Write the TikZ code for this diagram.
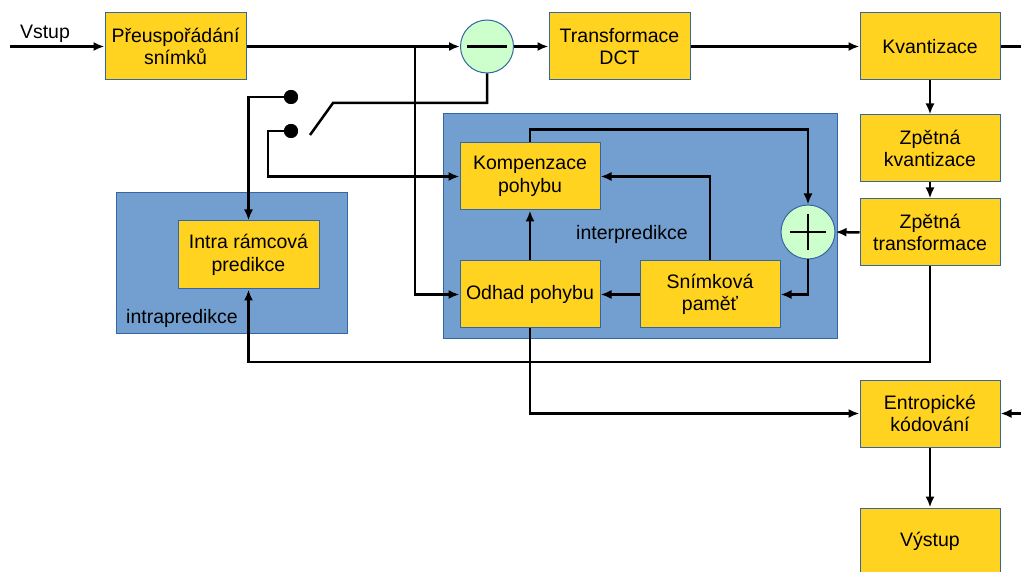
\documentclass[tikz,border=0pt]{standalone}
\usepackage{fontspec}
\setmainfont{Liberation Sans}
\usetikzlibrary{arrows.meta}
\definecolor{boxyellow}{HTML}{FFD320}
\definecolor{boxblue}{HTML}{729FCF}
\definecolor{edgeblue}{HTML}{3465A4}
\definecolor{circgreen}{HTML}{CCFFCC}
\begin{document}
\begin{tikzpicture}[x=1pt,y=-1pt,
  every node/.style={font=\fontsize{19.5}{22.5}\selectfont, text=black},
  ybox/.style={draw=edgeblue, line width=1pt, fill=boxyellow, minimum width=140pt, minimum height=67pt, align=center, inner sep=0pt},
  grp/.style={draw=edgeblue, line width=1pt, fill=boxblue},
  sumcirc/.style={circle, draw=edgeblue, line width=1pt, fill=circgreen, minimum size=53pt, inner sep=0pt},
  wire/.style={line width=2.5pt, black},
  arr/.style={wire, -{Latex[length=11pt,width=9pt]}},
  swdot/.style={circle, fill=black, minimum size=14pt, inner sep=0pt}
]
\useasboundingbox (0,0) rectangle (1021,572);

% groups
\draw[grp] (443,114) rectangle (837,339);
\draw[grp] (116,193) rectangle (347,334);
\node (intralbl) at (182,318) {intrapredikce};
\node (interlbl) at (632,234) {interpredikce};

% boxes
\node[ybox, minimum width=141pt] (pre) at (175.5,46.5) {Přeuspořádání\\snímků};
\node[ybox, minimum width=141pt] (dct) at (619.5,46.5) {Transformace\\DCT};
\node[ybox] (kv) at (930,46.5) {Kvantizace};
\node[ybox] (zk) at (930,148.5) {Zpětná\\kvantizace};
\node[ybox] (zt) at (930,232.5) {Zpětná\\transformace};
\node[ybox] (ent) at (930,413.5) {Entropické\\kódování};
\node[ybox] (out) at (930,541.5) {Výstup};
\node[ybox] (komp) at (530,176.5) {Kompenzace\\pohybu};
\node[ybox] (odh) at (530,294.5) {Odhad pohybu};
\node[ybox] (snim) at (710,294.5) {Snímková\\paměť};
\node[ybox, minimum width=141pt, minimum height=68pt] (intra) at (248.5,255) {Intra rámcová\\predikce};

% summing circles
\node[sumcirc] (minus) at (487,46.5) {};
\node[sumcirc, minimum size=54pt] (plus) at (808,232) {};
\draw[line width=2.5pt] (467,46.5) -- (507,46.5);
\draw[line width=2pt] (790,232) -- (826,232) (808,214) -- (808,250);

% switch
\node[swdot] (d1) at (291,97) {};
\node[swdot] (d2) at (291,131) {};
\coordinate (sw1) at (310,135);
\coordinate (sw2) at (333,103);

% input / output coordinates
\coordinate (in) at (10,46.5);
\node[anchor=center] (vstup) at (45,34) {Vstup};
\coordinate (kvout) at (1021,46.5);
\coordinate (entin) at (1021,413.5);
\coordinate (j1) at (415,46.5);

% connectors
\draw[arr] (in) -- (pre.west);
\draw[arr] (pre.east) -- (minus.west);
\draw[arr] (j1) |- (odh.west);
\draw[arr] (minus.east) -- (dct.west);
\draw[arr] (dct.east) -- (kv.west);
\draw[wire] (kv.east) -- (kvout);
\draw[arr] (entin) -- (ent.east);
\draw[arr] (kv.south) -- (zk.north);
\draw[arr] (zk.south) -- (zt.north);
\draw[arr] (zt.west) -- (plus.east);
\draw[arr] (zt.south) -- (zt.south |- 0,362) -| (intra.south);
\draw[arr] (odh.south) |- (ent.west);
\draw[arr] (ent.south) -- (out.north);
\draw[arr] (odh.north) -- (komp.south);
\draw[arr] (komp.north) -- ++(0,-13) -| (plus.north);
\draw[arr] (snim.north) |- (komp.east);
\draw[arr] (snim.west) -- (odh.east);
\draw[arr] (plus.south) |- (snim.east);
\draw[arr] (d1.center) -| (intra.north);
\draw[arr] (d2.center) -- ++(-23,0) |- (komp.west);
\draw[wire] (sw1) -- (sw2) -| (minus.south);
\node[swdot] at (d1) {};
\node[swdot] at (d2) {};
\end{tikzpicture}
\end{document}
